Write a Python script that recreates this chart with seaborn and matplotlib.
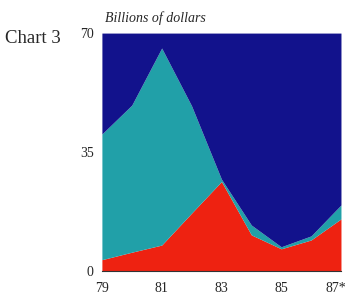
import numpy as np
import pandas as pd
import matplotlib
matplotlib.use('Agg')
import matplotlib.pyplot as plt
import matplotlib.transforms as mtransforms
import seaborn as sns

# Valores (bilhões de dólares)
anos = [79, 80, 81, 82, 83, 84, 85, 86, 87]
vermelho = [3.3, 5.5, 7.6, 17.0, 26.3, 10.6, 6.5, 9.1, 15.3]
total_meio = [40.3, 48.8, 65.6, 48.6, 27.0, 13.5, 7.1, 10.3, 19.4]
topo = 70
rotulos_x = ['79', '81', '83', '85', '87*']
ticks_x = [79, 81, 83, 85, 87]
ticks_y = [0, 35, 70]

df = pd.DataFrame({'ano': anos, 'vermelho': vermelho, 'total': total_meio})
df['azul_claro'] = df['total'] - df['vermelho']
df['azul_escuro'] = topo - df['total']

cores = ['#ee2211', '#21a0a8', '#12128c']

sns.set_style('white')
plt.rcParams['font.family'] = ['Liberation Serif', 'DejaVu Serif']

fig = plt.figure(figsize=(3.49, 2.98), dpi=100)
ax = fig.add_axes([0.292, 0.091, 0.685, 0.798])
ax.stackplot(df['ano'], df['vermelho'], df['azul_claro'], df['azul_escuro'],
             colors=cores, linewidth=0)
ax.set_xlim(79, 87)
ax.set_ylim(0, 70)
ax.set_xticks(ticks_x)
ax.set_xticklabels(rotulos_x)
ax.set_yticks(ticks_y)
ax.tick_params(axis='both', direction='in', length=4, width=0.8, color='black',
               labelsize=10, pad=8)
ax.tick_params(axis='y', pad=6)
for s in ax.spines.values():
    s.set_visible(False)
ax.spines['bottom'].set_visible(True)
ax.spines['bottom'].set_color('#333333')
ax.spines['bottom'].set_linewidth(0.8)

# puxar o rótulo "87*" um pouco para a esquerda para não cortar
ultimo = ax.get_xticklabels()[-1]
ultimo.set_transform(ultimo.get_transform() +
                     mtransforms.ScaledTranslation(-4 / 72, 0, fig.dpi_scale_trans))

fig.text(0.015, 0.872, 'Chart 3', fontsize=13.5, va='center', ha='left')
fig.text(0.30, 0.94, 'Billions of dollars', fontsize=10, style='italic',
         va='center', ha='left')

fig.savefig('out.png', dpi=100)
